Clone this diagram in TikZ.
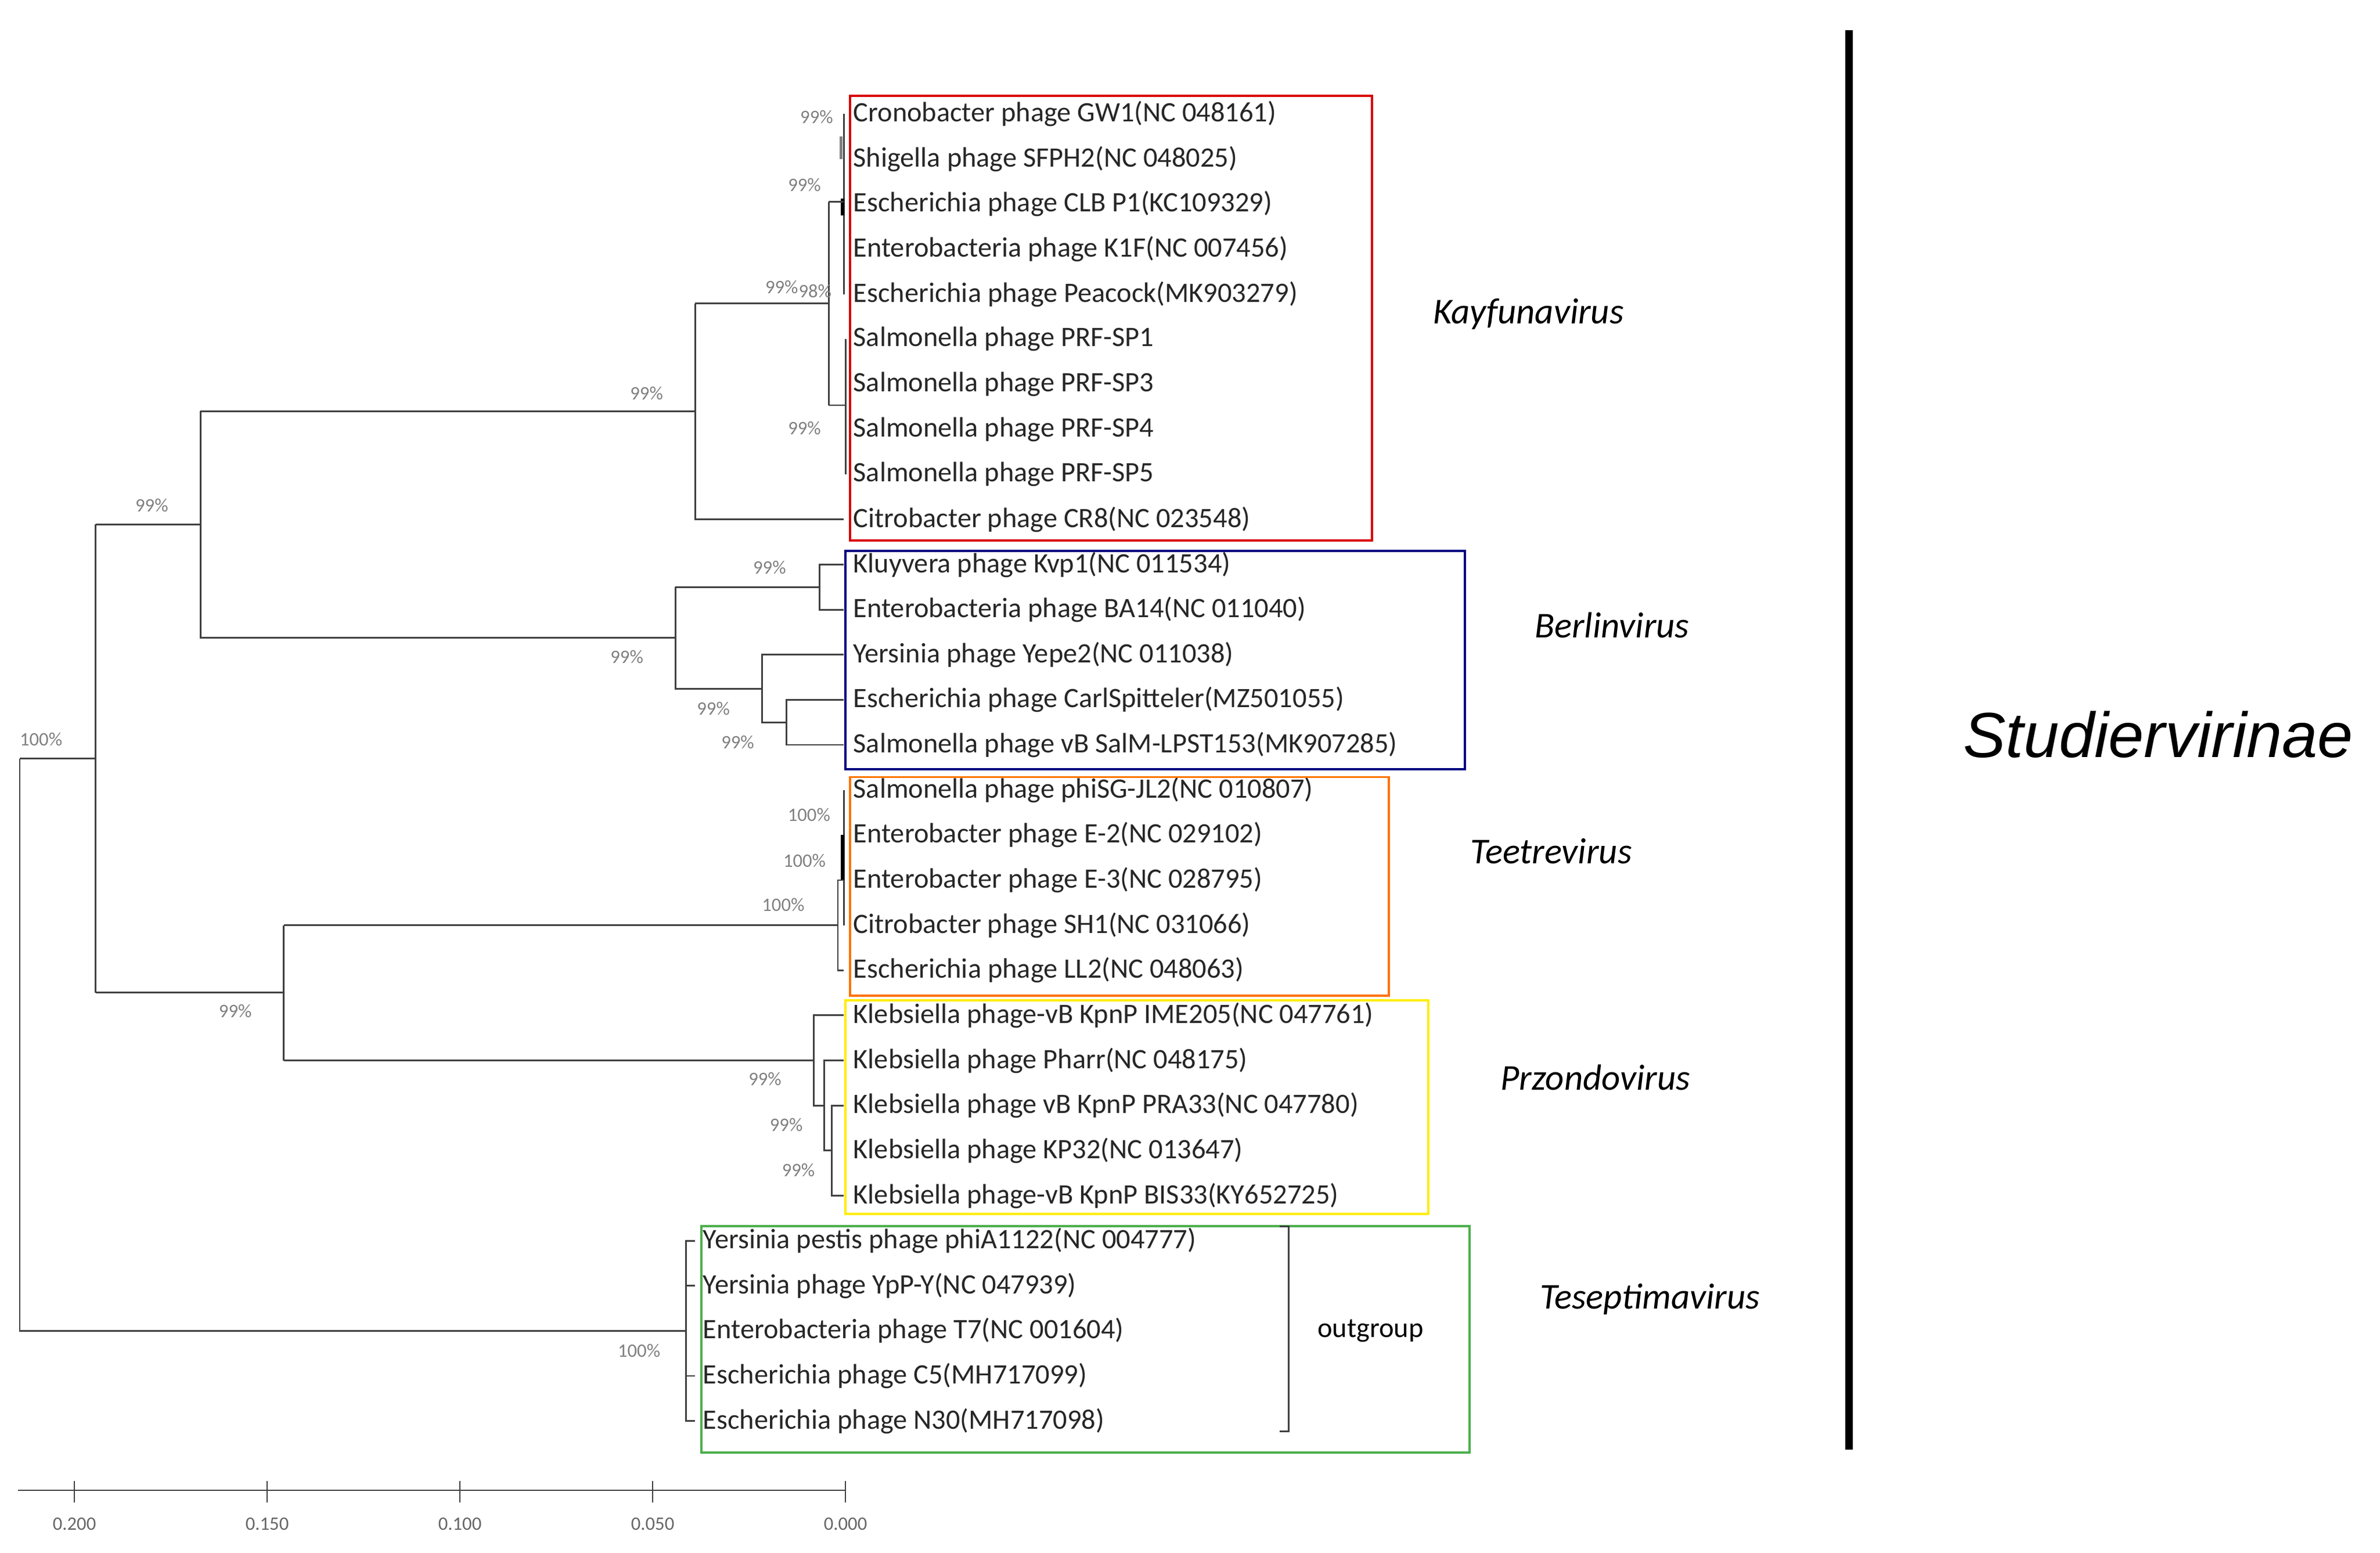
\documentclass[tikz,border=0pt]{standalone}
\usepackage{fontspec}
\setmainfont{Carlito}
\newfontfamily\arialf{Liberation Sans}
\begin{document}
\begin{tikzpicture}[x=1pt,y=-1pt,
  br/.style={draw=black!75,line width=1.1pt},
  tip/.style={anchor=west,inner sep=0pt,font=\fontsize{18.5}{20}\selectfont,text=black!85},
  pct/.style={inner sep=0pt,font=\fontsize{12.5}{14}\selectfont,text=black!50},
  gen/.style={inner sep=0pt,font=\fontsize{24}{26}\selectfont\itshape},
  box/.style={line width=1.5pt}]
\useasboundingbox (0,0) rectangle (1568,1023);
% tip labels
\foreach \i/\t in {0/{Cronobacter phage GW1(NC 048161)},1/{Shigella phage SFPH2(NC 048025)},2/{Escherichia phage CLB P1(KC109329)},3/{Enterobacteria phage K1F(NC 007456)},4/{Escherichia phage Peacock(MK903279)},5/{Salmonella phage PRF-SP1},6/{Salmonella phage PRF-SP3},7/{Salmonella phage PRF-SP4},8/{Salmonella phage PRF-SP5},9/{Citrobacter phage CR8(NC 023548)},10/{Kluyvera phage Kvp1(NC 011534)},11/{Enterobacteria phage BA14(NC 011040)},12/{Yersinia phage Yepe2(NC 011038)},13/{Escherichia phage CarlSpitteler(MZ501055)},14/{Salmonella phage vB SalM-LPST153(MK907285)},15/{Salmonella phage phiSG-JL2(NC 010807)},16/{Enterobacter phage E-2(NC 029102)},17/{Enterobacter phage E-3(NC 028795)},18/{Citrobacter phage SH1(NC 031066)},19/{Escherichia phage LL2(NC 048063)},20/{Klebsiella phage-vB KpnP IME205(NC 047761)},21/{Klebsiella phage Pharr(NC 048175)},22/{Klebsiella phage vB KpnP PRA33(NC 047780)},23/{Klebsiella phage KP32(NC 013647)},24/{Klebsiella phage-vB KpnP BIS33(KY652725)}}
  \node[tip] (t\i) at (562,75+29.7*\i) {\t};
\foreach \i/\t in {25/{Yersinia pestis phage phiA1122(NC 004777)},26/{Yersinia phage YpP-Y(NC 047939)},27/{Enterobacteria phage T7(NC 001604)},28/{Escherichia phage C5(MH717099)},29/{Escherichia phage N30(MH717098)}}
  \node[tip] (t\i) at (463,75+29.7*\i) {\t};
% boxes
\draw[box,draw=red!85!black] (560,63) rectangle (904,356);
\draw[box,draw=blue!50!black] (557,363) rectangle (965,507);
\draw[box,draw=orange!90!red] (560,512) rectangle (915,656);
\draw[box,draw=yellow!95!orange] (557,659) rectangle (941,800);
\draw[box,draw=green!55!black!70!white] (462,808) rectangle (968,957);
% tree: Kayfunavirus
\draw[br] (556,75) -- (556,194);
\draw[draw=black!50,line width=2pt] (554,90) -- (554,105);
\draw[draw=black,line width=2.4pt] (555,131) -- (555,142);
\draw[br] (557,223.5) -- (557,312.6);
\draw[br] (546,133) -- (556,133);
\draw[br] (546,267) -- (557,267);
\draw[br] (546,133) -- (546,267);
\draw[br] (458,200) -- (546,200);
\draw[br] (458,200) -- (458,342.3) -- (556,342.3);
\draw[br] (132,271) -- (458,271);
% Berlinvirus
\draw[br] (556,372) -- (540,372) -- (540,401.7) -- (556,401.7);
\draw[br] (445,386.9) -- (540,386.9);
\draw[br] (556,461.1) -- (518,461.1) -- (518,490.8) -- (556,490.8);
\draw[br] (556,431.4) -- (502,431.4) -- (502,476) -- (518,476);
\draw[br] (445,386.9) -- (445,453.7) -- (502,453.7);
\draw[br] (132,271) -- (132,420.3) -- (445,420.3);
\draw[br] (63,345.6) -- (132,345.6);
% Teetrevirus
\draw[br] (556,520.5) -- (556,609.6);
\draw[draw=black,line width=2.4pt] (555,550) -- (555,580);
\draw[br] (556,579.9) -- (552,579.9) -- (552,639.3) -- (556,639.3);
\draw[br] (187,609.6) -- (552,609.6);
% Przondovirus
\draw[br] (556,669) -- (536,669) -- (536,728.4) -- (543,728.4);
\draw[br] (556,698.7) -- (543,698.7) -- (543,758.1) -- (548,758.1);
\draw[br] (556,728.4) -- (548,728.4) -- (548,787.8) -- (556,787.8);
\draw[br] (187,698.7) -- (536,698.7);
\draw[br] (187,609.6) -- (187,698.7);
\draw[br] (63,654) -- (187,654);
\draw[br] (63,345.6) -- (63,654);
\draw[br] (13,499.8) -- (63,499.8);
\draw[br] (13,499.8) -- (13,876.9) -- (452,876.9);
% outgroup
\draw[br] (458,817.5) -- (452,817.5) -- (452,936.3) -- (458,936.3);
\foreach \y in {847.2,906.6} \draw[br] (452,\y) -- (458,\y);
% percentages
\foreach \x/\y/\t in {538/77/99\%,530/122/99\%,515/189/99\%,537/192/98\%,530/282/99\%,426/259/99\%,100/333/99\%,507/374/99\%,413/433/99\%,470/467/99\%,486/489/99\%,533/537/100\%,530/567/100\%,516/596/100\%,504/711/99\%,518/741/99\%,526/771/99\%,155/666/99\%,27/487/100\%,421/890/100\%}
  \node[pct] at (\x,\y) {\t};
% outgroup bracket
\draw[br] (843,808) -- (849,808) -- (849,943) -- (843,943);
\node[inner sep=0pt,font=\fontsize{18.5}{20}\selectfont] (og) at (903,877) {outgroup};
% genus labels
\node[gen] (g1) at (1007,207) {Kayfunavirus};
\node[gen] (g2) at (1062,412) {Berlinvirus};
\node[gen] (g3) at (1022,561) {Teetrevirus};
\node[gen] (g4) at (1051,710) {Przondovirus};
\node[gen] (g5) at (1087,856) {Teseptimavirus};
\draw[line width=5pt] (1218,20) -- (1218,955);
\node[inner sep=0pt,font=\arialf\fontsize{42}{46}\selectfont\itshape] (sv) at (1422,484) {Studiervirinae};
% axis
\draw[draw=black!75,line width=1pt] (12,982) -- (557,982);
\foreach \x/\t in {49/0.200,176/0.150,303/0.100,430/0.050,557/0.000}{
  \draw[draw=black!75,line width=1pt] (\x,976) -- (\x,990);
  \node[pct,text=black!60] at (\x,1004) {\t};}
\end{tikzpicture}
\end{document}
